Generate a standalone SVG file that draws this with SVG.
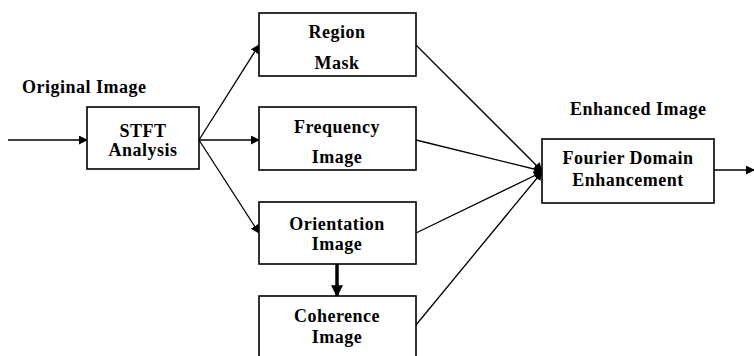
<svg xmlns="http://www.w3.org/2000/svg" width="754" height="356" viewBox="0 0 754 356">
<style>
.box{fill:#fff;stroke:#000;stroke-width:1.6}
text{font-family:"Liberation Serif","Times New Roman",serif;font-weight:bold;font-size:18px;letter-spacing:0.5px;fill:#000;text-anchor:middle}
.lab{text-anchor:start}
.ln{stroke:#000;stroke-width:1.3;fill:none}
</style>
<defs>
<marker id="ah" viewBox="0 0 10 10" refX="9" refY="5" markerWidth="9" markerHeight="9" markerUnits="userSpaceOnUse" orient="auto"><path d="M0,0 L10,5 L0,10 z" fill="#000"/></marker>
<marker id="ahb" viewBox="0 0 10 10" refX="9" refY="5" markerWidth="12" markerHeight="12" markerUnits="userSpaceOnUse" orient="auto"><path d="M0,0 L10,5 L0,10 z" fill="#000"/></marker>
</defs>
<g id="connectors">
<line class="ln" x1="8" y1="140" x2="87" y2="140" marker-end="url(#ah)"/>
<line class="ln" x1="199" y1="140" x2="259" y2="45" marker-end="url(#ah)"/>
<line class="ln" x1="199" y1="140" x2="259" y2="140" marker-end="url(#ah)"/>
<line class="ln" x1="199" y1="140" x2="259" y2="233" marker-end="url(#ah)"/>
<line class="ln" x1="416" y1="45" x2="542" y2="171" marker-end="url(#ah)"/>
<line class="ln" x1="416" y1="140" x2="542" y2="171" marker-end="url(#ah)"/>
<line class="ln" x1="416" y1="233" x2="542" y2="172" marker-end="url(#ah)"/>
<line class="ln" x1="416" y1="325" x2="542" y2="172" marker-end="url(#ah)"/>
<line class="ln" x1="714" y1="170" x2="754" y2="170" marker-end="url(#ah)"/>
<line x1="337" y1="264" x2="337" y2="296" stroke="#000" stroke-width="3.5" marker-end="url(#ahb)"/>
</g>
<g id="label-original"><text class="lab" x="22" y="93">Original Image</text></g>
<g id="label-enhanced"><text class="lab" x="570" y="115">Enhanced Image</text></g>
<g id="stft"><rect class="box" x="87" y="107" width="112" height="62"/><text x="143" y="137">STFT</text><text x="143" y="156">Analysis</text></g>
<g id="region"><rect class="box" x="259" y="13" width="157" height="63"/><text x="337" y="38">Region</text><text x="337" y="69">Mask</text></g>
<g id="frequency"><rect class="box" x="259" y="107" width="157" height="63"/><text x="337" y="133">Frequency</text><text x="337" y="163">Image</text></g>
<g id="orientation"><rect class="box" x="259" y="202" width="157" height="62"/><text x="337" y="230">Orientation</text><text x="337" y="250">Image</text></g>
<g id="coherence"><rect class="box" x="259" y="296" width="157" height="70"/><text x="337" y="322">Coherence</text><text x="337" y="343">Image</text></g>
<g id="fourier"><rect class="box" x="542" y="139" width="172" height="64"/><text x="628" y="164">Fourier Domain</text><text x="628" y="186">Enhancement</text></g>
</svg>
